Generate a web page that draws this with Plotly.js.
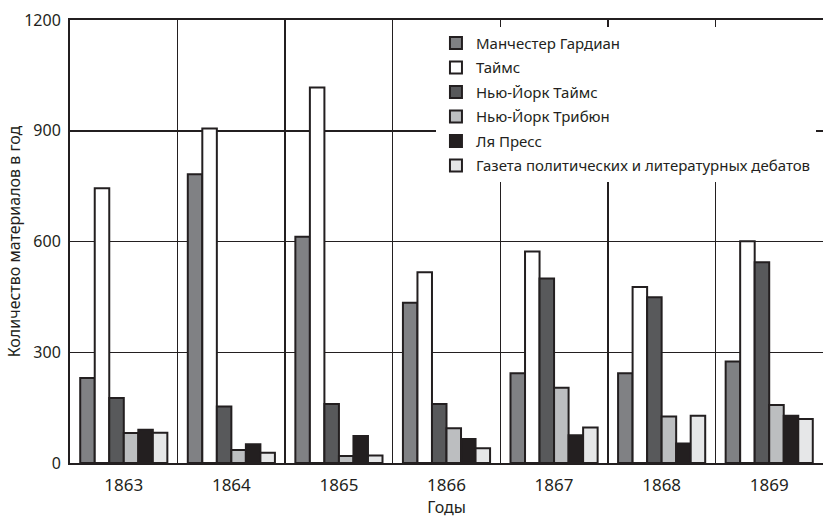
<!DOCTYPE html>
<html>
<head>
<meta charset="utf-8">
<script src="https://cdn.plot.ly/plotly-3.0.1.min.js"></script>
<style>html,body{margin:0;padding:0;background:#fff;}#chart{width:823px;height:518px;}</style>
</head>
<body>
<div id="chart"></div>
<script>
const years = ["1863", "1864", "1865", "1866", "1867", "1868", "1869"];
const seriesNames = ["Манчестер Гардиан", "Таймс", "Нью-Йорк Таймс", "Нью-Йорк Трибюн", "Ля Пресс", "Газета политических и литературных дебатов"];
const manchesterGuardian = [230, 782, 613, 434, 243, 243, 275];
const times = [744, 906, 1017, 517, 573, 477, 601];
const newYorkTimes = [176, 153, 160, 160, 500, 449, 544];
const newYorkTribune = [81, 35, 19, 94, 204, 126, 157];
const laPresse = [90, 51, 73, 65, 75, 53, 128];
const journalDesDebats = [82, 28, 20, 40, 96, 128, 119];
const yTicks = [0, 300, 600, 900, 1200];

const seriesValues = [manchesterGuardian, times, newYorkTimes, newYorkTribune, laPresse, journalDesDebats];
const fills = ["#808184", "#ffffff", "#58595b", "#bcbec0", "#231f20", "#e6e7e8"];
const ink = "#231f20";
const font = "Noto Sans, sans-serif";

const traces = seriesValues.map((vals, i) => ({
  type: "bar",
  name: seriesNames[i],
  x: years,
  y: vals,
  legendgroup: "g" + i,
  marker: {color: fills[i], line: {color: ink, width: 2}},
  hoverinfo: "skip"
}));

const layout = {
  width: 823,
  height: 518,
  margin: {l: 70, r: 0, t: 20, b: 55},
  paper_bgcolor: "#fff",
  plot_bgcolor: "#fff",
  barmode: "group",
  bargap: 0.19,
  bargroupgap: 0,
  font: {family: font, color: ink, size: 16},
  showlegend: true,
  legend: {
    x: 0.486, xanchor: "left",
    y: 0.985, yanchor: "top",
    bgcolor: "#fff",
    borderwidth: 0,
    font: {family: font, size: 15, color: ink},
    tracegroupgap: 2,
    traceorder: "grouped"
  },
  xaxis: {
    type: "category",
    tickson: "boundaries",
    showgrid: true,
    gridcolor: ink,
    gridwidth: 1.5,
    showline: true,
    linecolor: ink,
    linewidth: 2,
    mirror: true,
    ticks: "",
    ticklabelstandoff: 6,
    tickfont: {size: 17, color: ink},
    title: {text: "Годы", font: {size: 16, color: ink}, standoff: 10},
    zeroline: false
  },
  yaxis: {
    range: [0, 1200],
    tickvals: yTicks,
    ticktext: yTicks.map(String),
    showgrid: true,
    gridcolor: ink,
    gridwidth: 1.5,
    showline: true,
    linecolor: ink,
    linewidth: 2,
    ticks: "",
    ticklabelstandoff: 4,
    tickfont: {size: 16, color: ink},
    title: {text: "Количество материалов в год", font: {size: 16, color: ink}, standoff: 0},
    zeroline: false
  }
};

Plotly.newPlot("chart", traces, layout, {staticPlot: true, displayModeBar: false});
</script>
</body>
</html>
